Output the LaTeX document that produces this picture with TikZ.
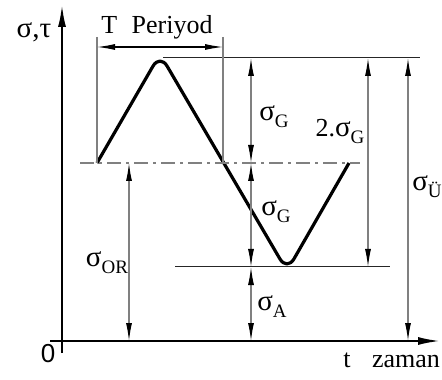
\documentclass[tikz,border=0pt]{standalone}
\usepackage{fontspec}
\setmainfont{Liberation Serif}
\newfontfamily\zerofont{Liberation Sans}
\usetikzlibrary{arrows.meta}

\tikzset{
  dim/.style={draw=gray, line width=0.6pt,
    {Latex[length=9pt,width=3pt,color=black]}-{Latex[length=9pt,width=3pt,color=black]}},
  lbl/.style={inner sep=0pt, font=\fontsize{13}{15}\selectfont},
  level/.style={draw=black!85, line width=0.5pt}
}
% sigma with a lowered index
\newcommand{\sgm}[1]{{\fontsize{14.5}{15}\selectfont σ}\raisebox{-3.5pt}{\fontsize{9.5}{10}\selectfont #1}}

\begin{document}
\begin{tikzpicture}[x=0.5pt,y=0.5pt,line width=1pt,>={Latex[length=11pt,width=4pt]}]
\useasboundingbox (0,0) rectangle (442,379);
% ---------- axes ----------
\coordinate (xs) at (50,38);
\coordinate (xe) at (440,38);
\coordinate (ys) at (62,26);
\coordinate (ye) at (62,374);
\draw[->] (xs) -- (xe);
\draw[->] (ys) -- (ye);
\node[lbl, anchor=base] (zero) at (48,17) {\zerofont 0};
\node[lbl, anchor=base] (yname) at (34,341) {\fontsize{14.5}{15}\selectfont σ,τ};
\node[lbl, anchor=base] (tvar) at (347,12) {t};
\node[lbl, anchor=base] (tname) at (406,12) {zaman};
% ---------- stress wave ----------
\coordinate (w0) at (97,216);
\coordinate (pk) at (160,325);
\coordinate (w1) at (223,216);
\coordinate (tr) at (287,108);
\coordinate (w2) at (349,216);
\draw[line width=1.6pt, rounded corners=7pt, line join=round] (w0) -- (pk) -- (tr) -- (w2);
% mean line (dash-dot)
\coordinate (m0) at (80,216);
\coordinate (m1) at (360,216);
\draw[gray, line width=0.6pt, dash pattern=on 7pt off 2.5pt on 1.5pt off 2.5pt] (m0) -- (m1);
% max / min levels
\coordinate (t0) at (163,321);
\coordinate (t1) at (420,321);
\coordinate (b0) at (175,112);
\coordinate (b1) at (390,112);
\draw[level] (t0) -- (t1);
\draw[level] (b0) -- (b1);
% ---------- period ----------
\coordinate (p0) at (97,342);
\coordinate (p1) at (223,342);
\draw[gray, line width=0.6pt] (p0) -- (w0);
\draw[gray, line width=0.6pt] (p1) -- (w1);
\draw[line width=0.6pt, {Latex[length=9pt,width=3pt]}-{Latex[length=9pt,width=3pt]}] (97,332) -- (223,332);
\node[lbl, anchor=base] (period) at (157,345) {T\hspace{0.55em}Periyod};
% ---------- dimensions ----------
\coordinate (gA) at (251,321);
\coordinate (gB) at (251,216);
\coordinate (gC) at (251,112);
\coordinate (gD) at (251,38);
\draw[dim] (gA) -- (gB);
\draw[dim] (gB) -- (gC);
\draw[dim] (gC) -- (gD);
\node[lbl] (amp1) at (274,262) {\sgm{G}};
\node[lbl] (amp2) at (276,167) {\sgm{G}};
\node[lbl] (smin) at (272,72) {\sgm{A}};
\coordinate (rA) at (368,321);
\coordinate (rB) at (368,112);
\draw[dim] (rA) -- (rB);
\node[lbl] (range) at (340,248) {2.\sgm{G}};
\coordinate (uA) at (408,321);
\coordinate (uB) at (408,38);
\draw[dim] (uA) -- (uB);
\node[lbl] (smax) at (427,192) {\sgm{Ü}};
\coordinate (oA) at (129,216);
\coordinate (oB) at (129,38);
\draw[dim] (oA) -- (oB);
\node[lbl] (smean) at (107,116) {\sgm{OR}};
\end{tikzpicture}
\end{document}
